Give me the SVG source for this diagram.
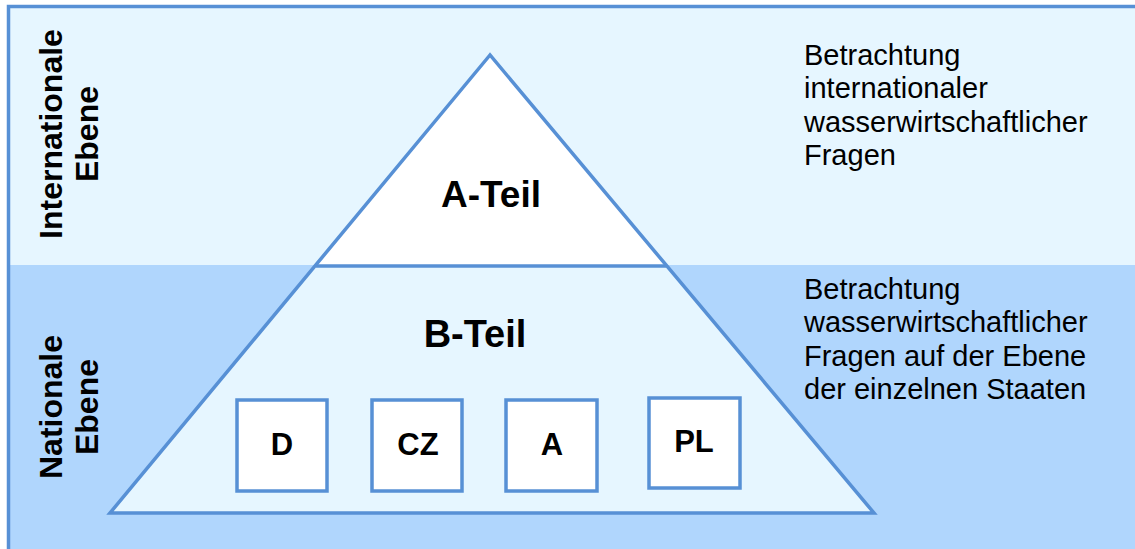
<svg xmlns="http://www.w3.org/2000/svg" width="1135" height="549" viewBox="0 0 1135 549">
<style>
.ln{fill:none;stroke:#5790d5;stroke-width:3.5;stroke-linejoin:miter}
.box{fill:#ffffff;stroke:#5790d5;stroke-width:3.5}
.lbl{font-family:"Liberation Sans",Arial,sans-serif;font-weight:bold;fill:#000}
.desc{font-family:"Liberation Sans",Arial,sans-serif;font-size:29px;fill:#000}
</style>
<g id="background">
<rect x="0" y="0" width="1135" height="549" fill="#ffffff"/>
<rect x="8.5" y="6.5" width="1140" height="560" fill="#e6f6ff"/>
<rect x="8.5" y="265" width="1140" height="300" fill="#b0d6fd"/>
<path d="M8.5 560 V6.5 H1140" class="ln" stroke-width="3"/>
</g>
<g id="side-labels">
<text class="lbl" font-size="32" transform="translate(62,134) rotate(-90)" text-anchor="middle">Internationale</text>
<text class="lbl" font-size="32" transform="translate(98,134) rotate(-90)" text-anchor="middle">Ebene</text>
<text class="lbl" font-size="32" transform="translate(62,407) rotate(-90)" text-anchor="middle">Nationale</text>
<text class="lbl" font-size="32" transform="translate(98,407) rotate(-90)" text-anchor="middle">Ebene</text>
</g>
<g id="pyramid">
<polygon points="490,55 110,513 874,513" fill="#e6f6ff"/>
<polygon points="490,55 316,266 666,266" fill="#ffffff"/>
<polygon points="490,55 110,513 874,513" class="ln"/>
<line x1="316" y1="266" x2="666" y2="266" class="ln"/>
</g>
<g id="a-teil">
<text class="lbl" font-size="37" x="491" y="207" text-anchor="middle">A-Teil</text>
</g>
<g id="b-teil">
<text class="lbl" font-size="38" x="475" y="347" text-anchor="middle">B-Teil</text>
</g>
<g id="node-D">
<rect class="box" x="237" y="400" width="90" height="91"/>
<text class="lbl" font-size="31" x="282" y="455" text-anchor="middle">D</text>
</g>
<g id="node-CZ">
<rect class="box" x="372" y="400" width="90" height="91"/>
<text class="lbl" font-size="31" x="418" y="455" text-anchor="middle">CZ</text>
</g>
<g id="node-A">
<rect class="box" x="506" y="400" width="91" height="91"/>
<text class="lbl" font-size="31" x="552" y="455" text-anchor="middle">A</text>
</g>
<g id="node-PL">
<rect class="box" x="649" y="398" width="91" height="90"/>
<text class="lbl" font-size="31" x="694" y="452" text-anchor="middle">PL</text>
</g>
<g id="desc-international">
<text class="desc" x="804" y="65">Betrachtung</text>
<text class="desc" x="804" y="98">internationaler</text>
<text class="desc" x="804" y="132">wasserwirtschaftlicher</text>
<text class="desc" x="804" y="165">Fragen</text>
</g>
<g id="desc-national">
<text class="desc" x="804" y="299">Betrachtung</text>
<text class="desc" x="804" y="332">wasserwirtschaftlicher</text>
<text class="desc" x="804" y="366">Fragen auf der Ebene</text>
<text class="desc" x="804" y="399">der einzelnen Staaten</text>
</g>
<g id="connectors"></g>
</svg>
